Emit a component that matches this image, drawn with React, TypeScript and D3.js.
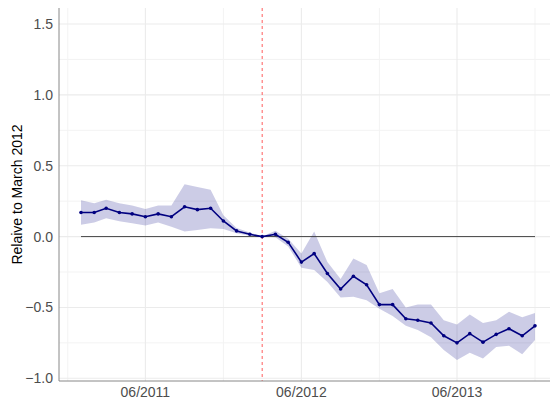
import React from "react";
import * as d3 from "d3";

const months: string[] = [
  "2011-01","2011-02","2011-03","2011-04","2011-05","2011-06","2011-07","2011-08","2011-09","2011-10","2011-11","2011-12",
  "2012-01","2012-02","2012-03","2012-04","2012-05","2012-06","2012-07","2012-08","2012-09","2012-10","2012-11","2012-12",
  "2013-01","2013-02","2013-03","2013-04","2013-05","2013-06","2013-07","2013-08","2013-09","2013-10","2013-11","2013-12",
];
const estimate: number[] = [
  0.17, 0.17, 0.20, 0.17, 0.16, 0.14, 0.16, 0.14, 0.21, 0.19, 0.20, 0.11,
  0.04, 0.016, 0.0, 0.016, -0.04, -0.18, -0.12, -0.26, -0.37, -0.28, -0.34, -0.48,
  -0.48, -0.58, -0.59, -0.61, -0.70, -0.75, -0.685, -0.745, -0.69, -0.65, -0.70, -0.63,
];
const upper: number[] = [
  0.256, 0.235, 0.26, 0.235, 0.22, 0.195, 0.22, 0.22, 0.37, 0.35, 0.33, 0.15,
  0.06, 0.028, 0.0, 0.042, -0.016, -0.12, 0.035, -0.18, -0.30, -0.155, -0.20, -0.40,
  -0.37, -0.50, -0.48, -0.48, -0.59, -0.62, -0.55, -0.61, -0.59, -0.53, -0.57, -0.54,
];
const lower: number[] = [
  0.083, 0.10, 0.13, 0.108, 0.094, 0.078, 0.10, 0.07, 0.035, 0.047, 0.058, 0.054,
  0.023, 0.005, 0.0, -0.005, -0.07, -0.22, -0.235, -0.32, -0.43, -0.425, -0.45, -0.51,
  -0.56, -0.63, -0.66, -0.71, -0.80, -0.87, -0.82, -0.86, -0.78, -0.77, -0.83, -0.73,
];
const yTicks: number[] = [-1.0, -0.5, 0.0, 0.5, 1.0, 1.5];
const yMinor: number[] = [-0.75, -0.25, 0.25, 0.75, 1.25];
const xTicks: string[] = ["2011-06", "2012-06", "2013-06"];
const xMinor: string[] = ["2010-12", "2011-12", "2012-12", "2013-12"];
const refMonth = "2012-03";
const yTitle = "Relaive to March 2012";

const parse = d3.timeParse("%Y-%m");
const fmt = d3.timeFormat("%m/%Y");

export default function App() {
  const W = 550, H = 403;
  const left = 59, right = 550, top = 8, bottom = 381;
  const dates = months.map((m) => parse(m) as Date);
  const x = d3.scaleTime().domain([dates[0], dates[dates.length - 1]]).range([81, 535]);
  const y = d3.scaleLinear().domain([-1, 1.5]).range([378.3, 24]);
  const data = dates.map((d, i) => ({ d, v: estimate[i], lo: lower[i], hi: upper[i] }));
  const area = d3.area<any>().x((p) => x(p.d)).y0((p) => y(p.lo)).y1((p) => y(p.hi));
  const line = d3.line<any>().x((p) => x(p.d)).y((p) => y(p.v));
  const font = "'Liberation Sans', Arial, sans-serif";
  const refX = x(parse(refMonth) as Date);
  return (
    <svg width={W} height={H} style={{ position: "absolute", left: 0, top: 0 }} fontFamily={font}>
      <rect x={0} y={0} width={W} height={H} fill="#fff" />
      {yMinor.map((t) => (
        <line key={"ym" + t} x1={left} x2={right} y1={y(t)} y2={y(t)} stroke="#f3f3f3" strokeWidth={1} />
      ))}
      {xMinor.map((t) => (
        <line key={"xm" + t} x1={x(parse(t) as Date)} x2={x(parse(t) as Date)} y1={top} y2={bottom} stroke="#f3f3f3" strokeWidth={1} />
      ))}
      {yTicks.map((t) => (
        <line key={"yg" + t} x1={left} x2={right} y1={y(t)} y2={y(t)} stroke="#ebebeb" strokeWidth={1.1} />
      ))}
      {xTicks.map((t) => (
        <line key={"xg" + t} x1={x(parse(t) as Date)} x2={x(parse(t) as Date)} y1={top} y2={bottom} stroke="#ebebeb" strokeWidth={1.1} />
      ))}
      <path d={area(data) || ""} fill="navy" fillOpacity={0.2} />
      <line x1={x(dates[0])} x2={x(dates[dates.length - 1])} y1={y(0)} y2={y(0)} stroke="#333" strokeWidth={0.9} />
      <line x1={refX} x2={refX} y1={top} y2={bottom} stroke="#ff5c5c" strokeWidth={1} strokeDasharray="3,3" />
      <path d={line(data) || ""} fill="none" stroke="navy" strokeWidth={1.6} />
      {data.map((p, i) => (
        <circle key={i} cx={x(p.d)} cy={y(p.v)} r={1.8} fill="navy" />
      ))}
      <line x1={left} x2={left} y1={top} y2={bottom} stroke="#888" strokeWidth={1} />
      <line x1={left} x2={right} y1={bottom} y2={bottom} stroke="#888" strokeWidth={1} />
      {yTicks.map((t) => (
        <text key={"yt" + t} x={53} y={y(t)} dy="0.36em" textAnchor="end" fontSize={14} fill="#4d4d4d">
          {d3.format(".1f")(t)}
        </text>
      ))}
      {xTicks.map((t) => (
        <text key={"xt" + t} x={x(parse(t) as Date)} y={397} textAnchor="middle" fontSize={14} fill="#4d4d4d">
          {fmt(parse(t) as Date)}
        </text>
      ))}
      <text transform={`translate(22,${(top + bottom) / 2}) rotate(-90)`} textAnchor="middle" fontSize={14} fill="#000">
        {yTitle}
      </text>
    </svg>
  );
}
